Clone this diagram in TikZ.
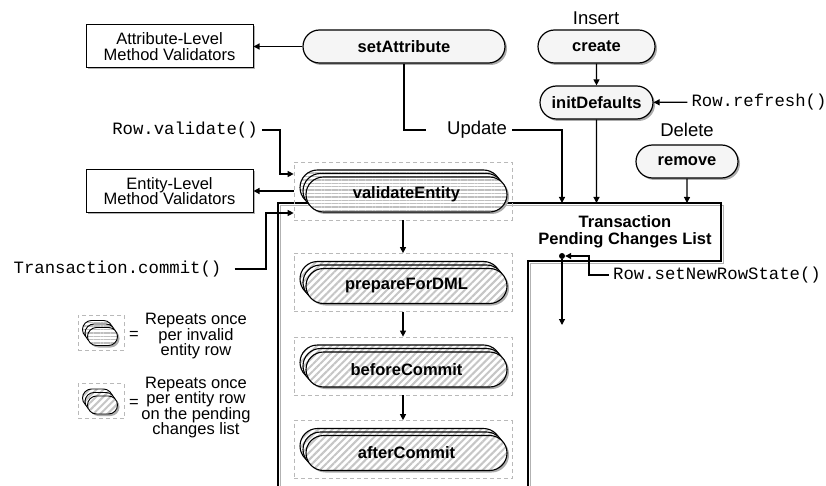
\documentclass[tikz,border=0pt]{standalone}
\usepackage{fontspec}
\setmainfont{Liberation Sans}
\setmonofont{Liberation Mono}
\usetikzlibrary{arrows.meta,shapes.misc,shadows,patterns.meta}

\begin{document}
\begin{tikzpicture}[x=1pt,y=-1pt,
  arr/.style={-{Triangle[length=6pt,width=6pt]},line width=1.2pt},
  dshadow/.style={drop shadow={shadow xshift=2pt,shadow yshift=-2pt,fill=gray!65,opacity=1}},
  lbl/.style={font=\fontsize{16.5}{15.5}\selectfont,align=center,inner sep=0pt},
  big/.style={font=\fontsize{18.5}{20}\selectfont,inner xsep=5pt,inner ysep=0pt},
  code/.style={font=\ttfamily\fontsize{17.3}{18}\selectfont,inner xsep=4pt,inner ysep=0pt},
  valbox/.style={lbl,draw,line width=1pt,fill=white,minimum width=167,minimum height=43,
    drop shadow={shadow xshift=1.5pt,shadow yshift=-1.5pt,fill=gray!60,opacity=1}},
  pill/.style={rounded rectangle,draw,line width=1.2pt,fill=gray!8,dshadow,minimum height=33,
    inner sep=0pt,font=\bfseries\fontsize{16.5}{17}\selectfont},
  layer/.style={rounded rectangle,draw,line width=1.1pt,dshadow,preaction={fill=white},
    inner sep=0pt,font=\bfseries\fontsize{16.5}{17}\selectfont},
  hlines/.style={layer,pattern={Lines[angle=0,distance=3.4pt,line width=1.4pt]},pattern color=gray!50},
  dlines/.style={layer,pattern={Lines[angle=45,distance=5pt,line width=2pt]},pattern color=gray!45},
  stack/.style={minimum width=201,minimum height=35},
  mini/.style={minimum width=30,minimum height=18,line width=0.9pt},
  grp/.style={draw=gray!55,dash pattern=on 4pt off 3pt,line width=0.7pt,
    minimum width=218,minimum height=58,inner sep=0pt}]

  \useasboundingbox (0,0) rectangle (826,486);
  \fill[white] (0,0) rectangle (826,486);

  \draw[gray!60,line width=1.5pt,shift={(2.5,2.5)}]
    (278,486) -- (278,203) -- (721,203) -- (721,261) -- (528,261) -- (528,486);
  \draw[line width=1.5pt]
    (278,486) -- (278,203) -- (721,203) -- (721,261) -- (528,261) -- (528,486);

  \node[valbox] (attrval) at (169.5,46.5) {Attribute-Level\\Method Validators};
  \node[valbox] (entval) at (169.5,191) {Entity-Level\\Method Validators};
  \node[pill,minimum width=202] (setattr) at (404,46.5) {setAttribute};
  \node[pill,minimum width=117] (create) at (596.5,46.5) {create};
  \node[pill,minimum width=113] (initdef) at (596.5,102.5) {initDefaults};
  \node[pill,minimum width=102] (remove) at (687,161.5) {remove};
  \node[big] (insert) at (596,18) {Insert};
  \node[big] (update) at (477,130) {Update};
  \node[big] (delete) at (687,130) {Delete};
  \node[code] (rowref) at (759,102) {Row.refresh()};
  \node[code] (rowval) at (185,130) {Row.validate()};
  \node[code] (txcommit) at (117.5,269) {Transaction.commit()};
  \node[code] (rowstate) at (717,275) {Row.setNewRowState()};
  \node[lbl,font=\bfseries\fontsize{16.5}{17}\selectfont] (pcl) at (625,231.5)
    {Transaction\\Pending Changes List};
  \node[circle,fill,inner sep=0pt,minimum size=6] (dot) at (562,256) {};

  \foreach \g/\cy/\txt/\pat in {vgrp/191/validateEntity/hlines,pgrp/282.5/prepareForDML/dlines,
      bgrp/366/beforeCommit/dlines,agrp/449.5/afterCommit/dlines}{
    \node[grp] (\g) at (403,\cy) {};
    \foreach \k in {2,1}
      \node[\pat,stack] (\g-l\k) at (406.5-3*\k,\cy+3.5-3.5*\k) {};
    \node[\pat,stack] (\g-pill) at (406.5,\cy+3.5) {\txt};
  }

  \foreach \g/\cy/\pat/\txt/\ty in {leg1/336.5/hlines/{Repeats once\\per invalid\\entity row}/336.5,
      leg2/405/dlines/{Repeats once\\per entity row\\on the pending\\changes list}/407.5}{
    \node[grp,minimum width=46,minimum height=35] (\g) at (101,\cy-4) {};
    \foreach \k in {2,1}
      \node[\pat,mini] (\g-l\k) at (102.5-2.5*\k,\cy-3.5*\k) {};
    \node[\pat,mini] (\g-pill) at (102.5,\cy) {};
    \node[lbl] (\g-eq) at (134,\cy-1.5) {=};
    \node[lbl] (\g-txt) at (196,\ty) {\txt};
  }

  \coordinate (ulist) at (562,203);
  \coordinate (rv) at (280,174);
  \coordinate (tc) at (266,213);
  \coordinate (rs) at (589,256);
  \coordinate (pend) at (562,325);

  \draw[arr] (setattr) -- (attrval);
  \draw[line width=1.2pt] (setattr) |- ([xshift=-16pt]update.west);
  \draw[arr] (update) -| (ulist);
  \draw[arr] (create) -- (initdef);
  \draw[arr] (rowref) -- (initdef);
  \draw[arr] (initdef) -- (initdef |- ulist);
  \draw[arr] (remove) -- (remove |- ulist);
  \draw[arr] (vgrp) -- (entval);
  \draw[arr] (rowval) -| (rv) -- (rv -| vgrp.west);
  \draw[arr] ([xshift=9pt]txcommit.east) -| (tc) -- (tc -| vgrp.west);
  \draw[arr] (rowstate) -| (rs) -- (dot);
  \draw[arr] (dot) -- (pend);
  \foreach \a/\b in {vgrp/pgrp,pgrp/bgrp,bgrp/agrp}
    \draw[arr] (\a) -- (\b);
\end{tikzpicture}
\end{document}
